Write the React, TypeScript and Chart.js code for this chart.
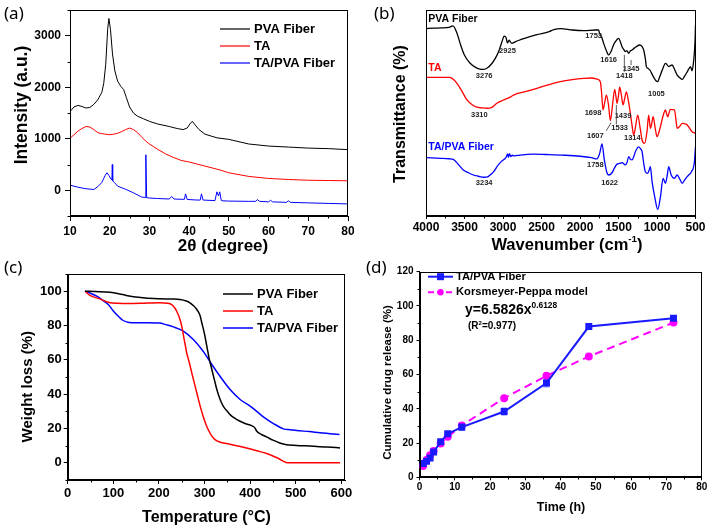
import React, { useEffect, useRef } from 'react';
import { Chart, registerables } from 'chart.js';

Chart.register(...registerables);

const FONT = '"Liberation Sans", Arial, Helvetica, sans-serif';

// ---------------- (a) XRD ----------------
const xrdTicksX = [10, 20, 30, 40, 50, 60, 70, 80];
const xrdMinorX = [15, 25, 35, 45, 55, 65, 75];
const xrdTicksY = [0, 1000, 2000, 3000];
const xrdMinorY = [-500, 500, 1500, 2500, 3500];
const xrdNames = ['PVA Fiber', 'TA', 'TA/PVA Fiber'];
const xrdPvaX = [10, 11, 12, 13, 14, 15, 16, 17, 18, 18.5, 19, 19.5, 19.8, 20.2, 20.7, 21.3, 22, 22.8, 23.5, 24.2, 25, 26, 27, 28.5, 30, 32, 35, 37, 38.5, 39.5, 40.2, 40.8, 41.5, 42.5, 44, 47, 50, 55, 60, 65, 70, 75, 80];
const xrdPvaY = [1530, 1620, 1650, 1630, 1600, 1610, 1670, 1760, 1900, 2080, 2450, 3150, 3340, 3120, 2650, 2320, 2120, 2020, 1960, 1800, 1620, 1500, 1440, 1390, 1340, 1290, 1240, 1200, 1180, 1210, 1290, 1340, 1270, 1180, 1090, 1020, 990, 900, 860, 840, 820, 810, 790];
const xrdTaX = [10, 11, 12, 13, 14, 15, 16, 17, 18, 19, 20, 21, 22, 23, 24, 25, 26, 27, 28, 29, 30, 32, 34, 36, 38, 40, 42, 45, 48, 50, 55, 60, 65, 70, 75, 80];
const xrdTaY = [1010, 1080, 1150, 1200, 1240, 1230, 1180, 1120, 1100, 1090, 1080, 1090, 1110, 1140, 1180, 1210, 1180, 1120, 1040, 960, 900, 800, 710, 640, 580, 550, 510, 450, 390, 340, 270, 230, 210, 195, 190, 185];
const xrdTaPvaX = [10, 12, 14, 16, 17, 18, 18.8, 19.3, 19.8, 20.3, 20.55, 20.65, 20.75, 21.2, 22, 24, 26, 28, 28.9, 29.1, 29.3, 30, 32, 35, 35.6, 36.2, 38, 38.8, 39.1, 39.5, 42, 42.8, 43.1, 43.5, 46.5, 47, 47.4, 47.7, 48.1, 48.5, 50, 55, 56.8, 57.2, 57.7, 60, 60.5, 61, 64.5, 65, 65.5, 70, 75, 80];
const xrdTaPvaY = [100, 60, 30, 15, 70, 150, 280, 340, 290, 220, 200, 500, 180, 150, 80, 20, -50, -130, -140, 690, -145, -150, -160, -170, -120, -170, -175, -175, -70, -178, -190, -190, -70, -190, -200, -30, -110, -30, -200, -205, -210, -215, -215, -180, -215, -225, -195, -225, -235, -205, -235, -245, -255, -265];

// ---------------- (b) FTIR ----------------
const ftirTicksX = [500, 1000, 1500, 2000, 2500, 3000, 3500, 4000];
const ftirMinorX = [750, 1250, 1750, 2250, 2750, 3250, 3750];
const ftirPvaWn = [4000, 3900, 3800, 3700, 3650, 3600, 3550, 3500, 3430, 3350, 3300, 3250, 3200, 3150, 3100, 3050, 3010, 2985, 2960, 2942, 2920, 2905, 2885, 2850, 2800, 2700, 2560, 2400, 2340, 2250, 2100, 1950,
  1800, 1760, 1745, 1720, 1693, 1660, 1628, 1597, 1570, 1541, 1498, 1475, 1454, 1430, 1411, 1390, 1368, 1345, 1324, 1295, 1268, 1225, 1195, 1173, 1150, 1138, 1110, 1086, 1060, 1034, 1010, 991, 970, 947, 920, 891, 870, 848, 825, 804, 770, 738, 700, 673, 640, 608, 585, 565, 545, 530, 515, 505, 500];
const ftirPvaT = [91, 91.2, 91.3, 91.6, 92.3, 89, 83, 78, 74.3, 72, 71.3, 71.2, 72, 73.8, 76.5, 80.5, 85, 87.3, 86.5, 84, 85.4, 84.5, 83.8, 84.4, 85.2, 86.5, 88, 89.5, 90.5, 91, 90.3, 90,
  90.3, 90.3, 88.7, 87, 83.8, 80.5, 78.2, 79.8, 82.5, 84.6, 86.2, 84.5, 82.2, 80.8, 79.8, 80.3, 79, 80.2, 80.6, 81.5, 82.2, 83, 82.3, 80.6, 76, 72.5, 71.5, 70.5, 68.5, 66.8, 65.5, 65.2, 67, 69.3, 72, 74.1, 73.5, 72.5, 73, 73.3, 71, 68.4, 67, 66.3, 68, 70, 71.5, 72.5, 70.5, 73.3, 79, 86, 92.7];
const ftirTaWn = [4000, 3800, 3700, 3660, 3600, 3540, 3470, 3400, 3340, 3280, 3210, 3150, 3080, 3000, 2900, 2864, 2700, 2560, 2400, 2257, 2100, 1953, 1850,
  1779, 1736, 1720, 1701, 1680, 1658, 1630, 1606, 1580, 1550, 1535, 1519, 1500, 1485, 1462, 1441, 1420, 1398, 1372, 1346, 1324, 1303, 1280, 1251, 1220, 1194, 1160, 1130, 1108, 1086, 1068, 1050, 1025, 1000, 965, 935, 910, 891, 861, 826, 800, 773, 755, 738, 705, 673, 640, 608, 575, 544, 520, 500];
const ftirTaT = [67.3, 67.3, 67.3, 66.8, 64.5, 61, 56.5, 54, 52.8, 52.5, 52.3, 52.6, 54.7, 56.2, 57.8, 58.7, 60.5, 62, 63.8, 65.2, 66.2, 66.8, 67,
  66.5, 65.2, 60, 51.5, 55, 58.7, 54, 46.3, 53, 61.5, 58.5, 54.7, 58.5, 62.5, 58.5, 53.9, 57, 60.3, 56, 49.8, 44, 39.3, 43, 49, 43, 36.9, 35.3, 41, 49, 42.6, 45, 48.2, 43, 38.5, 42, 46.6, 50, 51.5, 48.2, 51.8, 51.6, 51.5, 47, 42.6, 43.5, 45, 44.8, 44.2, 42.5, 40.9, 40.5, 40.1];
const ftirTaPvaWn = [4000, 3800, 3700, 3645, 3580, 3515, 3450, 3385, 3320, 3254, 3200, 3167, 3120, 3080, 3020, 2960, 2940, 2929, 2915, 2900, 2880, 2850, 2777, 2600, 2400, 2200, 2000, 1850, 1779, 1745,
  1714, 1684, 1650, 1628, 1584, 1550, 1519, 1485, 1454, 1411, 1390, 1368, 1345, 1324, 1300, 1281, 1238, 1210, 1194, 1170, 1151, 1121, 1100, 1086, 1064, 1030, 991, 955, 921, 891, 870, 848, 816, 773, 738, 705, 673, 640, 608, 585, 565, 545, 530, 515, 500];
const ftirTaPvaT = [28.3, 28, 27.8, 27.5, 25, 22.3, 21, 19.9, 19.3, 18.8, 19, 19.9, 21.5, 23.9, 26.5, 28.5, 30.1, 28.5, 30.3, 28.8, 29.5, 29.2, 29.6, 30, 29.8, 29.5, 29, 28.3, 27.7, 30.4,
  35, 27.2, 21, 19.9, 21, 23.5, 25.2, 25.5, 25.9, 24.8, 26, 28.8, 27.5, 27.2, 29, 31.2, 33.6, 32.5, 31.2, 25, 21.5, 20.7, 22.5, 23.9, 16.7, 9.4, 3.2, 9.4, 18.3, 15.9, 19, 23.9, 19.9, 18.3, 19.9, 18, 15.9, 17.5, 19.1, 20, 20.7, 22, 23.1, 26, 33.6];
const ftirNameWn = [3970, 3970, 3970];
const ftirNameT = [95.5, 71.7, 33.6];
const ftirPeakText = ['2925', '3276', '1753', '1616', '1418', '1345', '1005', '3310', '1698', '1439', '1607', '1533', '1314', '3234', '1758', '1622'];
const ftirPeakWn = [2942, 3245, 1823, 1628, 1424, 1337, 1008, 3307, 1831, 1441, 1801, 1485, 1320, 3245, 1801, 1615];
const ftirPeakT = [80.1, 68.1, 87.4, 75.7, 68, 71.4, 59.2, 49, 50.1, 48.7, 38.8, 42.6, 38, 16.2, 24.8, 16.2];
const ftirPointers = [[1424, 70, 1424, 78.2], [1337, 73.3, 1337, 75.7], [1658, 41.4, 1597, 45.3], [1528, 44.5, 1528, 53.9]];

// ---------------- (c) TGA ----------------
const tgaTicksX = [0, 100, 200, 300, 400, 500, 600];
const tgaMinorX = [50, 150, 250, 350, 450, 550];
const tgaTicksY = [0, 20, 40, 60, 80, 100];
const tgaMinorY = [-10, 10, 30, 50, 70, 90, 110];
const tgaPvaT = [38, 60, 93, 120, 144, 170, 202, 230, 246, 260, 268, 276, 283, 290, 294, 300, 305, 310, 316, 322, 327, 334, 341, 350, 356, 366, 378, 390, 403, 410, 414.5, 425, 436, 450, 465, 480, 495, 520, 540, 570, 597];
const tgaPvaW = [100, 99.8, 99.4, 98, 96.7, 96, 95.6, 95.4, 95.2, 94.3, 93.2, 91.5, 89.3, 86, 81.6, 75, 68, 61, 54.4, 48, 42.7, 37, 33, 30, 28.1, 26, 24.2, 22.8, 21.7, 20.5, 18.4, 16.5, 15.1, 13.2, 11.6, 10.6, 10.2, 9.9, 9.6, 9.2, 8.7];
const tgaTaT = [38, 49, 70, 93, 110, 129, 160, 202, 220, 228, 234, 239, 245, 250, 256, 261, 267, 272, 283, 290, 297, 303, 308, 315, 323, 335, 349, 370, 392, 415, 436, 460, 484, 520, 560, 597];
const tgaTaW = [100, 97.5, 95.5, 93.2, 92.9, 92.8, 92.9, 93.2, 93, 92.2, 90.5, 88.3, 84.5, 79.6, 71, 64, 58, 52.4, 40.8, 33.5, 27.1, 22.5, 19.4, 16, 13.5, 12, 11.2, 10, 8.7, 7, 5.4, 2.8, 0, 0, 0, 0];
const tgaTaPvaT = [38, 50, 63.6, 75, 89, 100, 111, 120, 129, 140, 151, 175, 202, 215, 231.6, 253.5, 275.4, 297, 316, 334, 356, 378, 400, 414.5, 429, 451, 473, 488, 502, 530, 553, 575, 596];
const tgaTaPvaW = [100, 98.8, 97.1, 95, 92.2, 88.5, 85.4, 83.2, 82.1, 81.6, 81.6, 81.6, 81.4, 80.5, 79.2, 76.7, 71.8, 65, 57.3, 50.4, 42.7, 36.9, 33, 30, 26.8, 22.9, 19.8, 19.3, 18.8, 18.2, 17.5, 17, 16.5];

// ---------------- (d) Release ----------------
const relTicksX = [0, 10, 20, 30, 40, 50, 60, 70, 80];
const relMinorX = [5, 15, 25, 35, 45, 55, 65, 75];
const relTicksY = [0, 20, 40, 60, 80, 100, 120];
const relMinorY = [10, 30, 50, 70, 90, 110];
const relNames = ['TA/PVA Fiber', 'Korsmeyer-Peppa model'];
const relTime = [1, 2, 3, 4, 6, 8, 12, 24, 36, 48, 72];
const relTaPva = [8.1, 9.3, 11.3, 14.8, 20.7, 25.4, 29.3, 38.4, 55, 88, 92.8];
const relErr = [0.8, 0.8, 1, 1, 1, 1.2, 2, 2, 2.2, 1, 1];
const relKp = [6.6, 10.1, 12.9, 15.4, 19.8, 23.6, 30.3, 46.2, 59.2, 70.5, 90.3];

// ---------------- helpers ----------------
type Seg = { t: string; sup?: boolean };

function drawRich(ctx: CanvasRenderingContext2D, segs: Seg[], x: number, y: number, size: number, align: 'left' | 'center', color: string, rot = false) {
  ctx.save();
  ctx.translate(x, y);
  if (rot) ctx.rotate(-Math.PI / 2);
  let w = 0;
  for (const s of segs) {
    ctx.font = `bold ${s.sup ? size * 0.6 : size}px ${FONT}`;
    w += ctx.measureText(s.t).width;
  }
  let cx = align === 'center' ? -w / 2 : 0;
  ctx.fillStyle = color;
  ctx.textBaseline = 'middle';
  ctx.textAlign = 'left';
  for (const s of segs) {
    const fs = s.sup ? size * 0.6 : size;
    ctx.font = `bold ${fs}px ${FONT}`;
    ctx.fillText(s.t, cx, s.sup ? -size * 0.32 : 0);
    cx += ctx.measureText(s.t).width;
  }
  ctx.restore();
}

interface AxisCfg { min: number; max: number; ticks: number[]; minor: number[]; reverse?: boolean; font: number; tickLen: number; pad: number; hide?: boolean }
interface TitleCfg { segs: Seg[]; x: number; y: number; size: number }
interface LegendCfg { labels: string[]; colors: string[]; dashed?: boolean[]; markers?: string[]; x0: number; x1: number; tx: number; ys: number[]; size: number; lw: number }
interface TextGroup { texts: string[]; xs: number[]; ys: number[]; size: number; colors: string[]; align: 'left' | 'center' }
interface PanelCfg {
  left: number; top: number; width: number; height: number; area: number[];
  datasets: any[]; x: AxisCfg; y: AxisCfg; xTitle: TitleCfg; yTitle: TitleCfg;
  legend?: LegendCfg; groups?: TextGroup[]; pointers?: number[][];
  errors?: { xs: number[]; ys: number[]; errs: number[]; color: string };
  notes?: { segs: Seg[]; x: number; y: number; size: number; color: string }[];
}

function line(xs: number[], ys: number[], color: string, w: number, smooth: boolean, extra: any = {}) {
  return {
    data: xs.map((x, i) => ({ x, y: ys[i] })),
    borderColor: color, backgroundColor: color, borderWidth: w,
    pointRadius: 0, fill: false, tension: 0,
    cubicInterpolationMode: smooth ? 'monotone' : 'default',
    ...extra,
  };
}

function makePlugin(cfg: PanelCfg) {
  return {
    id: 'decor',
    beforeDatasetsDraw(chart: any) {
      const e = cfg.errors;
      if (!e) return;
      const ctx = chart.ctx, sx = chart.scales.x, sy = chart.scales.y;
      ctx.save();
      ctx.strokeStyle = e.color; ctx.lineWidth = 1;
      e.xs.forEach((xv, i) => {
        const px = sx.getPixelForValue(xv);
        const p1 = sy.getPixelForValue(e.ys[i] - e.errs[i]);
        const p2 = sy.getPixelForValue(e.ys[i] + e.errs[i]);
        ctx.beginPath();
        ctx.moveTo(px, p1); ctx.lineTo(px, p2);
        ctx.moveTo(px - 3, p1); ctx.lineTo(px + 3, p1);
        ctx.moveTo(px - 3, p2); ctx.lineTo(px + 3, p2);
        ctx.stroke();
      });
      ctx.restore();
    },
    afterDraw(chart: any) {
      const ctx: CanvasRenderingContext2D = chart.ctx;
      const ca = chart.chartArea, sx = chart.scales.x, sy = chart.scales.y;
      ctx.save();
      const l = Math.round(ca.left) + 0.5, t = Math.round(ca.top) + 0.5;
      const r = Math.round(ca.right) - 0.5, b = Math.round(ca.bottom) - 0.5;
      ctx.strokeStyle = '#000'; ctx.lineWidth = 1;
      ctx.strokeRect(l, t, r - l, b - t);
      ctx.beginPath();
      for (const v of cfg.x.minor) {
        const px = Math.round(sx.getPixelForValue(v)) + 0.5;
        ctx.moveTo(px, b); ctx.lineTo(px, b + 3);
      }
      for (const v of cfg.y.minor) {
        const py = Math.round(sy.getPixelForValue(v)) + 0.5;
        ctx.moveTo(l, py); ctx.lineTo(l - 3, py);
      }
      ctx.stroke();
      drawRich(ctx, cfg.xTitle.segs, cfg.xTitle.x, cfg.xTitle.y, cfg.xTitle.size, 'center', '#000');
      drawRich(ctx, cfg.yTitle.segs, cfg.yTitle.x, cfg.yTitle.y, cfg.yTitle.size, 'center', '#000', true);
      const lg = cfg.legend;
      if (lg) {
        lg.labels.forEach((lab, i) => {
          const y = lg.ys[i];
          ctx.save();
          ctx.strokeStyle = lg.colors[i]; ctx.lineWidth = lg.lw;
          if (lg.dashed && lg.dashed[i]) ctx.setLineDash([6, 3]);
          ctx.beginPath(); ctx.moveTo(lg.x0, y); ctx.lineTo(lg.x1, y); ctx.stroke();
          ctx.setLineDash([]);
          const m = lg.markers ? lg.markers[i] : '';
          const mx = (lg.x0 + lg.x1) / 2;
          ctx.fillStyle = lg.colors[i];
          if (m === 'rect') ctx.fillRect(mx - 3.5, y - 3.5, 7, 7);
          if (m === 'circle') { ctx.beginPath(); ctx.arc(mx, y, 3.2, 0, Math.PI * 2); ctx.fill(); }
          ctx.restore();
          drawRich(ctx, [{ t: lab }], lg.tx, y, lg.size, 'left', '#000');
        });
      }
      for (const g of cfg.groups || []) {
        g.texts.forEach((tx, i) => {
          drawRich(ctx, [{ t: tx }], sx.getPixelForValue(g.xs[i]), sy.getPixelForValue(g.ys[i]), g.size, g.align, g.colors[i % g.colors.length]);
        });
      }
      if (cfg.pointers) {
        ctx.strokeStyle = '#333'; ctx.lineWidth = 0.8;
        ctx.beginPath();
        for (const p of cfg.pointers) {
          ctx.moveTo(sx.getPixelForValue(p[0]), sy.getPixelForValue(p[1]));
          ctx.lineTo(sx.getPixelForValue(p[2]), sy.getPixelForValue(p[3]));
        }
        ctx.stroke();
      }
      for (const n of cfg.notes || []) drawRich(ctx, n.segs, n.x, n.y, n.size, 'left', n.color);
      ctx.restore();
    },
  };
}

function axisOpts(a: AxisCfg, isX: boolean, cfg: PanelCfg) {
  return {
    type: 'linear',
    min: a.min, max: a.max, reverse: !!a.reverse,
    afterBuildTicks: (s: any) => { s.ticks = a.ticks.map((v) => ({ value: v })); },
    afterFit: (s: any) => {
      if (isX) { s.height = cfg.height - cfg.area[3]; s.paddingLeft = 0; s.paddingRight = 0; }
      else { s.width = cfg.area[0]; s.paddingTop = 0; s.paddingBottom = 0; }
    },
    ticks: {
      display: !a.hide,
      autoSkip: false, maxRotation: 0, minRotation: 0,
      padding: a.pad, color: '#000',
      font: { family: FONT, size: a.font, weight: 'bold' },
      callback: (v: any) => String(v),
    },
    grid: { drawOnChartArea: false, drawTicks: !a.hide, tickLength: a.tickLen, color: '#000', lineWidth: 1 },
    border: { display: true, color: '#000', width: 1 },
  };
}

function Panel({ cfg }: { cfg: PanelCfg }) {
  const ref = useRef<HTMLCanvasElement>(null);
  useEffect(() => {
    const chart = new Chart(ref.current as HTMLCanvasElement, {
      type: 'line',
      data: { datasets: cfg.datasets },
      options: {
        responsive: false, animation: false, devicePixelRatio: 1,
        layout: { padding: { left: 0, top: cfg.area[1], right: cfg.width - cfg.area[2], bottom: 0 } },
        plugins: { legend: { display: false }, tooltip: { enabled: false } },
        scales: { x: axisOpts(cfg.x, true, cfg), y: axisOpts(cfg.y, false, cfg) } as any,
      } as any,
      plugins: [makePlugin(cfg) as any],
    });
    return () => chart.destroy();
  }, [cfg]);
  return (
    <canvas ref={ref} width={cfg.width} height={cfg.height}
      style={{ position: 'absolute', left: cfg.left, top: cfg.top, width: cfg.width, height: cfg.height }} />
  );
}

const BLACK = '#000000', RED = '#ff0000', BLUE = '#0000ff';

const panelA: PanelCfg = {
  left: 0, top: 0, width: 354, height: 262, area: [70, 10, 348, 216],
  datasets: [
    line(xrdPvaX, xrdPvaY, BLACK, 1, false),
    line(xrdTaX, xrdTaY, RED, 1, false),
    line(xrdTaPvaX, xrdTaPvaY, BLUE, 1, false),
  ],
  x: { min: 10, max: 80, ticks: xrdTicksX, minor: xrdMinorX, font: 12, tickLen: 5, pad: 3 },
  y: { min: -500, max: 3505, ticks: xrdTicksY, minor: xrdMinorY, font: 12, tickLen: 5, pad: 4 },
  xTitle: { segs: [{ t: '2θ (degree)' }], x: 223, y: 246, size: 17 },
  yTitle: { segs: [{ t: 'Intensity (a.u.)' }], x: 22, y: 105, size: 17.5 },
  legend: { labels: xrdNames, colors: [BLACK, RED, BLUE], x0: 220, x1: 250, tx: 254, ys: [29, 46, 63], size: 13, lw: 1.2 },
};

const panelB: PanelCfg = {
  left: 354, top: 0, width: 355, height: 262, area: [72, 10, 341.5, 216],
  datasets: [
    line(ftirPvaWn, ftirPvaT, BLACK, 1.3, true),
    line(ftirTaWn, ftirTaT, RED, 1.3, true),
    line(ftirTaPvaWn, ftirTaPvaT, BLUE, 1.3, true),
  ],
  x: { min: 500, max: 4000, reverse: true, ticks: ftirTicksX, minor: ftirMinorX, font: 12, tickLen: 3, pad: 1 },
  y: { min: 0, max: 100, ticks: [], minor: [], font: 12, tickLen: 0, pad: 0, hide: true },
  xTitle: { segs: [{ t: 'Wavenumber (cm' }, { t: '-1', sup: true }, { t: ')' }], x: 213, y: 245, size: 16.5 },
  yTitle: { segs: [{ t: 'Transmittance (%)' }], x: 47, y: 114, size: 16 },
  groups: [
    { texts: xrdNames, xs: ftirNameWn, ys: ftirNameT, size: 10.5, colors: [BLACK, RED, BLUE], align: 'left' },
    { texts: ftirPeakText, xs: ftirPeakWn, ys: ftirPeakT, size: 7.5, colors: ['#222'], align: 'center' },
  ],
  pointers: ftirPointers,
};

const panelC: PanelCfg = {
  left: 0, top: 262, width: 354, height: 269, area: [67.7, 12, 345, 218],
  datasets: [
    line(tgaPvaT, tgaPvaW, BLACK, 1.5, true),
    line(tgaTaT, tgaTaW, RED, 1.5, true),
    line(tgaTaPvaT, tgaTaPvaW, BLUE, 1.5, true),
  ],
  x: { min: 0, max: 608, ticks: tgaTicksX, minor: tgaMinorX, font: 13, tickLen: 4, pad: 2 },
  y: { min: -10, max: 110, ticks: tgaTicksY, minor: tgaMinorY, font: 13, tickLen: 4, pad: 2 },
  xTitle: { segs: [{ t: 'Temperature (°C)' }], x: 206.5, y: 256, size: 16 },
  yTitle: { segs: [{ t: 'Weight loss (%)' }], x: 28, y: 124.7, size: 15 },
  legend: { labels: xrdNames, colors: [BLACK, RED, BLUE], x0: 223, x1: 253, tx: 257, ys: [32, 49, 66], size: 13, lw: 1.5 },
};

const MAG = '#ff00ff', DBLUE = '#1a1aff';

const panelD: PanelCfg = {
  left: 354, top: 262, width: 355, height: 269, area: [65.5, 9.7, 347.7, 215.3],
  datasets: [
    line(relTime, relTaPva, DBLUE, 2, false, { pointRadius: 3.5, pointStyle: 'rect', pointBackgroundColor: DBLUE, pointBorderColor: DBLUE }),
    line(relTime, relKp, MAG, 2, false, { pointRadius: 3, pointStyle: 'circle', pointBackgroundColor: MAG, pointBorderColor: MAG, borderDash: [8, 5] }),
  ],
  x: { min: 0, max: 80, ticks: relTicksX, minor: relMinorX, font: 10, tickLen: 3, pad: 1 },
  y: { min: 0, max: 120, ticks: relTicksY, minor: relMinorY, font: 10, tickLen: 3, pad: 3 },
  xTitle: { segs: [{ t: 'Time (h)' }], x: 207, y: 246, size: 12.5 },
  yTitle: { segs: [{ t: 'Cumulative drug release (%)' }], x: 34, y: 120.5, size: 11.5 },
  legend: { labels: relNames, colors: [DBLUE, MAG], dashed: [false, true], markers: ['rect', 'circle'], x0: 74, x1: 99, tx: 102, ys: [14.7, 30.3], size: 11.2, lw: 2 },
  errors: { xs: relTime, ys: relTaPva, errs: relErr, color: '#5c6cff' },
  notes: [
    { segs: [{ t: 'y=6.5826x' }, { t: '0.6128', sup: true }], x: 111, y: 48, size: 14, color: '#000' },
    { segs: [{ t: '(R' }, { t: '2', sup: true }, { t: '=0.977)' }], x: 114, y: 64.7, size: 10, color: '#000' },
  ],
};

const labelStyle = (left: number, top: number): React.CSSProperties => ({
  position: 'absolute', left, top, fontFamily: '"Noto Sans", "Open Sans", sans-serif',
  fontSize: 17, lineHeight: '17px', color: '#000',
});

export default function App() {
  return (
    <div style={{ position: 'fixed', left: 0, top: 0, width: 709, height: 531, background: '#fff', overflow: 'hidden' }}>
      <Panel cfg={panelA} />
      <Panel cfg={panelB} />
      <Panel cfg={panelC} />
      <Panel cfg={panelD} />
      <div style={labelStyle(4, 4)}>(a)</div>
      <div style={labelStyle(374, 4)}>(b)</div>
      <div style={labelStyle(4, 258)}>(c)</div>
      <div style={labelStyle(366, 258)}>(d)</div>
    </div>
  );
}
